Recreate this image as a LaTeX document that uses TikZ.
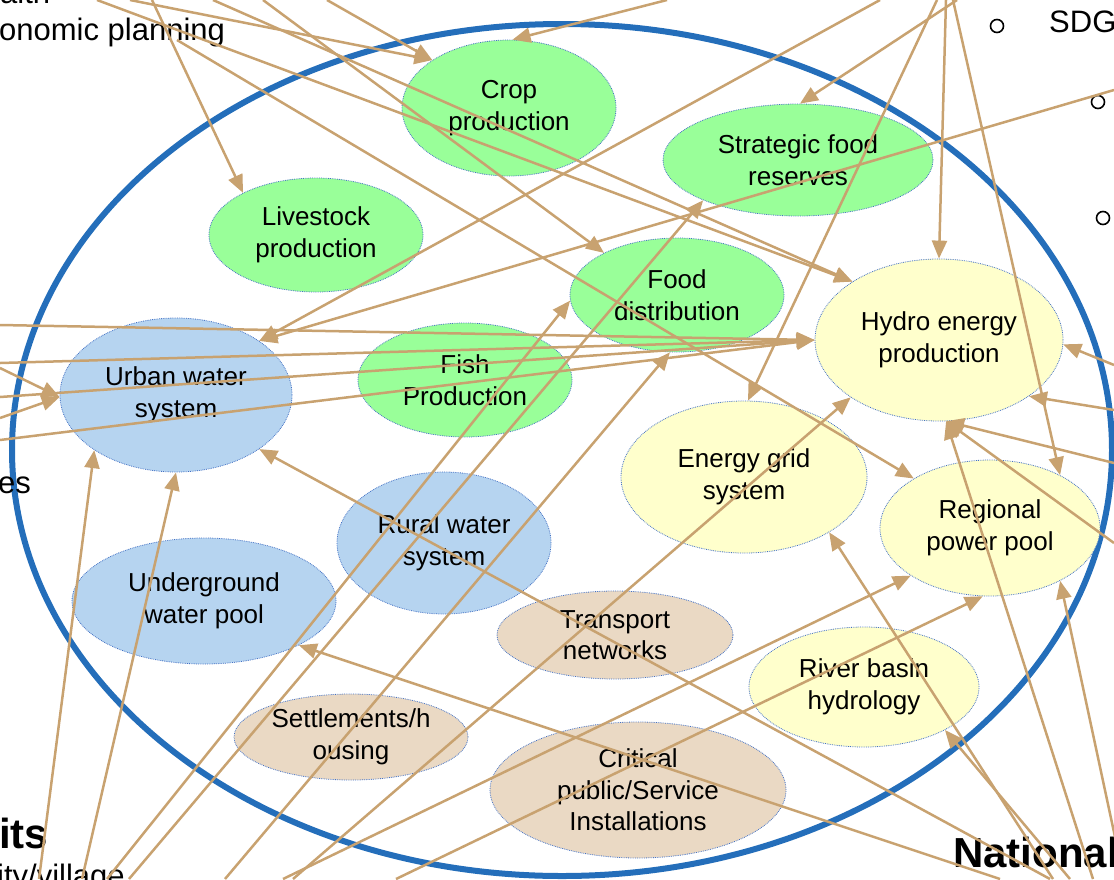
\documentclass[tikz,border=0pt]{standalone}
\usepackage{fontspec}
\setmainfont{Liberation Sans}
\usetikzlibrary{arrows.meta,shapes.geometric}
\definecolor{NxRim}{RGB}{36,110,186}
\definecolor{NxEdge}{RGB}{68,114,196}
\definecolor{NxGreen}{RGB}{153,255,153}
\definecolor{NxWater}{RGB}{182,212,240}
\definecolor{NxYellow}{RGB}{255,255,204}
\definecolor{NxSand}{RGB}{234,217,196}
\definecolor{NxTan}{RGB}{200,162,112}
\tikzset{
  nx/eco/.style={
    ellipse,
    draw=NxEdge,
    densely dotted,
    line width=0.8pt,
    inner sep=0pt,
    align=center,
    text=black,
    font=\fontsize{26}{31.5}\selectfont
  },
  nx/food/.style={nx/eco, fill=NxGreen},
  nx/water/.style={nx/eco, fill=NxWater},
  nx/energy/.style={nx/eco, fill=NxYellow},
  nx/infra/.style={nx/eco, fill=NxSand},
  nx/rim/.style={draw=NxRim, line width=6pt},
  nx/link/.style={-{Triangle[length=18pt,width=15pt]}, line width=2.5pt, draw=NxTan},
  nx/side/.style={anchor=base west, inner sep=0pt, font=\fontsize{31}{37}\selectfont},
  nx/head/.style={anchor=base west, inner sep=0pt, font=\bfseries\fontsize{42}{48}\selectfont},
  nx/bullet/.style={circle, draw=black, line width=1.6pt, minimum size=13pt, inner sep=0pt}
}

\begin{document}
\begin{tikzpicture}[x=1pt,y=-1pt]
  \useasboundingbox (0,0) rectangle (1114,879);
  \clip (0,0) rectangle (1114,879);
  \draw[nx/rim] (562,450) ellipse [x radius=550, y radius=426];

  \node[nx/food,minimum width=214pt,minimum height=136pt] (crop) at (509,108) {Crop\\production};
  \node[nx/food,minimum width=270pt,minimum height=112pt] (reserve) at (798,160) {Strategic food\\reserves};
  \node[nx/food,minimum width=214pt,minimum height=114pt] (livestock) at (316,235) {Livestock\\production};
  \node[nx/food,minimum width=214pt,minimum height=114pt] (fooddist) at (677,295) {Food\\distribution};
  \node[nx/food,minimum width=214pt,minimum height=114pt] (fish) at (465,380) {Fish\\Production};
  \node[nx/energy,minimum width=248pt,minimum height=162pt] (hydro) at (939,340) {Hydro energy\\production};
  \node[nx/energy,minimum width=246pt,minimum height=152pt] (grid) at (744,477) {Energy grid\\system};
  \node[nx/energy,minimum width=220pt,minimum height=136pt] (pool) at (990,528) {Regional\\power pool};
  \node[nx/energy,minimum width=230pt,minimum height=120pt] (basin) at (864,687) {River basin\\hydrology};
  \node[nx/water,minimum width=232pt,minimum height=154pt] (urban) at (176,395) {Urban water\\system};
  \node[nx/water,minimum width=214pt,minimum height=142pt] (rural) at (444,543) {Rural water\\system};
  \node[nx/water,minimum width=264pt,minimum height=126pt] (ground) at (204,601) {Underground\\water pool};
  \node[nx/infra,minimum width=236pt,minimum height=88pt] (transport) at (615,635) {Transport\\networks};
  \node[nx/infra,minimum width=234pt,minimum height=86pt] (housing) at (351,737) {Settlements/h\\ousing};
  \node[nx/infra,minimum width=296pt,minimum height=136pt] (critical) at (638,790) {Critical\\public/Service\\Installations};

  \node[nx/side] (health) at (0,3) {alth};
  \node[nx/side] (planning) at (-1,40) {onomic planning};
  \node[nx/side] (services) at (-2,493) {es};
  \node[nx/head] (units) at (-1,848) {its};
  \node[nx/side] (village) at (-3,886) {ity/village};
  \node[nx/head] (national) at (953,867) {National};
  \node[nx/side] (sdg) at (1049,32) {SDG};
  \node[nx/bullet] (b1) at (997,26) {};
  \node[nx/bullet] (b2) at (1098,102) {};
  \node[nx/bullet] (b3) at (1103,218) {};

  \coordinate (n1) at (97,0);
  \coordinate (n2) at (130,0);
  \coordinate (n3) at (152,0);
  \coordinate (n4) at (213,0);
  \coordinate (n5) at (263,0);
  \coordinate (n6) at (327,0);
  \coordinate (n7) at (667,0);
  \coordinate (n8) at (880,0);
  \coordinate (n9) at (937,0);
  \coordinate (n10) at (946,0);
  \coordinate (n11) at (953,0);
  \coordinate (n12) at (957,0);
  \coordinate (plan) at (177,40);
  \coordinate (e1) at (1114,90);
  \coordinate (e2) at (1114,365);
  \coordinate (e3) at (1114,410);
  \coordinate (e4) at (1114,463);
  \coordinate (e5) at (1114,543);
  \coordinate (w1) at (0,325);
  \coordinate (w2) at (0,363);
  \coordinate (w3) at (0,368);
  \coordinate (w4) at (0,397);
  \coordinate (w5) at (0,418);
  \coordinate (w6) at (0,440);
  \coordinate (s1) at (39,879);
  \coordinate (s2) at (82,879);
  \coordinate (s3) at (107,879);
  \coordinate (s4) at (129,879);
  \coordinate (s5) at (225,879);
  \coordinate (s6) at (293,879);
  \coordinate (s7) at (283,879);
  \coordinate (s8) at (396,879);
  \coordinate (s9) at (1000,879);
  \coordinate (s10) at (1050,879);
  \coordinate (s11) at (1053,879);
  \coordinate (s12) at (1070,879);
  \coordinate (s13) at (1093,879);
  \coordinate (s14) at (1124,879);

  \draw[nx/link] (n1) -- (hydro.146);
  \draw[nx/link] (n2) -- (crop.148);
  \draw[nx/link] (n3) -- (livestock.150);
  \draw[nx/link] (n4) -- (hydro.146);
  \draw[nx/link] (n5) -- (fooddist.150);
  \draw[nx/link] (n6) -- (crop.148);
  \draw[nx/link] (n7) -- (crop.87);
  \draw[nx/link] (n8) -- (urban.33);
  \draw[nx/link] (n9) -- (grid.87);
  \draw[nx/link] (n10) -- (hydro.90);
  \draw[nx/link] (n11) -- (pool.37);
  \draw[nx/link] (n12) -- (reserve.88);
  \draw[nx/link] (plan) -- (pool.147);
  \draw[nx/link] (e1) -- (urban.33);
  \draw[nx/link] (e2) -- (hydro.-2);
  \draw[nx/link] (e3) -- (hydro.-32);
  \draw[nx/link] (e4) -- (hydro.275);
  \draw[nx/link] (e5) -- (hydro.275);
  \draw[nx/link] (w1) -- (hydro.180);
  \draw[nx/link] (w2) -- (hydro.180);
  \draw[nx/link] (w3) -- (urban.181);
  \draw[nx/link] (w4) -- (hydro.180);
  \draw[nx/link] (w5) -- (urban.181);
  \draw[nx/link] (w6) -- (hydro.180);
  \draw[nx/link] (s1) -- (urban.214);
  \draw[nx/link] (s2) -- (urban.270);
  \draw[nx/link] (s3) -- (fooddist.183);
  \draw[nx/link] (s4) -- (reserve.203);
  \draw[nx/link] (s5) -- (fooddist.263);
  \draw[nx/link] (s6) -- (hydro.213);
  \draw[nx/link] (s7) -- (pool.211);
  \draw[nx/link] (s8) -- (pool.264);
  \draw[nx/link] (s9) -- (ground.-25);
  \draw[nx/link] (s10) -- (urban.-33);
  \draw[nx/link] (s11) -- (grid.-33);
  \draw[nx/link] (s12) -- (basin.-28);
  \draw[nx/link] (s13) -- (hydro.275);
  \draw[nx/link] (s14) -- (pool.-37);
\end{tikzpicture}
\end{document}
